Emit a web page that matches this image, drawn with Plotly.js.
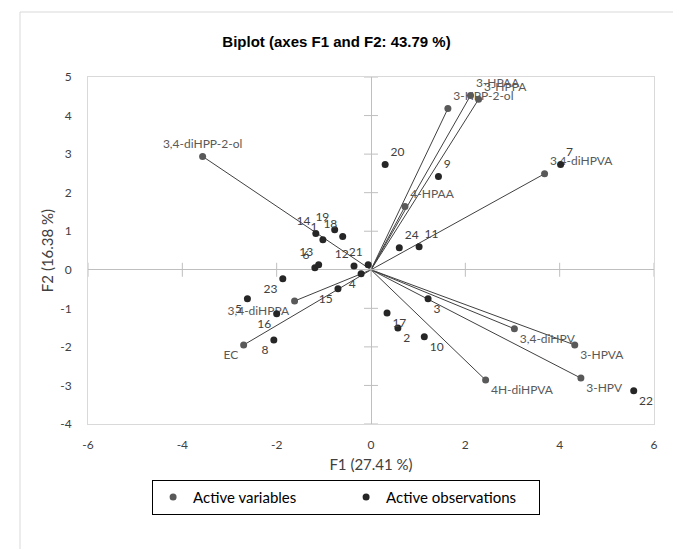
<!DOCTYPE html>
<html><head><meta charset="utf-8">
<script src="https://cdn.plot.ly/plotly-3.0.1.min.js"></script>
<style>html,body{margin:0;padding:0;background:#fff}#chart{width:673px;height:549px}</style>
</head><body><div id="chart"></div>
<script>
const variableNames = ['3,4-diHPP-2-ol','3-HPAA','3-HPPA','3-HPP-2-ol','4-HPAA','3,4-diHPVA','3,4-diHPV','3-HPVA','3-HPV','4H-diHPVA','3,4-diHPPA','EC'];
const variableF1 = [-3.57, 2.11, 2.28, 1.63, 0.72, 3.68, 3.04, 4.32, 4.45, 2.43, -1.62, -2.70];
const variableF2 = [2.94, 4.52, 4.42, 4.18, 1.64, 2.49, -1.53, -1.95, -2.81, -2.86, -0.81, -1.95];

const observationNames = ['1','2','3','4','5','6','7','8','9','10','11','12','13','14','15','16','17','18','19','20','21','22','23','24'];
const observationF1 = [-1.02, 0.57, 1.21, -0.21, -2.62, -1.19, 4.02, -2.06, 1.43, 1.13, 1.02, -0.36, -1.11, -1.17, -0.70, -2.00, 0.34, -0.60, -0.77, 0.30, -0.06, 5.57, -1.87, 0.60];
const observationF2 = [0.78, -1.51, -0.75, -0.10, -0.75, 0.05, 2.73, -1.82, 2.42, -1.74, 0.60, 0.10, 0.13, 0.94, -0.49, -1.14, -1.12, 0.86, 1.04, 2.73, 0.13, -3.14, -0.23, 0.57];

const xTickValues = [-6, -4, -2, 0, 2, 4, 6];
const xTickLabels = ['-6', '-4', '-2', '0', '2', '4', '6'];
const yTickValues = [-4, -3, -2, -1, 0, 1, 2, 3, 4, 5];
const yTickLabels = ['-4', '-3', '-2', '-1', '0', '1', '2', '3', '4', '5'];

const chartTitle = 'Biplot (axes F1 and F2: 43.79 %)';
const xTitle = 'F1 (27.41 %)';
const yTitle = 'F2 (16.38 %)';

function quadrantPosition(x, y) {
  const v = y >= 0 ? 'top' : 'bottom';
  const h = x >= 0 ? 'right' : 'left';
  return v + ' ' + h;
}
const varPositions = variableF1.map((x, i) => quadrantPosition(x, variableF2[i]));
varPositions[0] = 'top center';
const obsPositions = observationF1.map((x, i) => quadrantPosition(x, observationF2[i]));

const lineX = [], lineY = [];
variableF1.forEach((x, i) => { lineX.push(0, x, null); lineY.push(0, variableF2[i], null); });

const labelFont = 'Lato, "Open Sans", sans-serif';

const traces = [
  {
    type: 'scatter', mode: 'lines', x: lineX, y: lineY,
    line: {color: '#404040', width: 1}, hoverinfo: 'skip', showlegend: false
  },
  {
    type: 'scatter', mode: 'markers', x: yTickValues.map(() => 0), y: yTickValues,
    marker: {symbol: 'line-ew', size: 10, line: {color: '#bfbfbf', width: 1}},
    hoverinfo: 'skip', showlegend: false, cliponaxis: false
  },
  {
    type: 'scatter', mode: 'markers', x: xTickValues, y: xTickValues.map(() => 0),
    marker: {symbol: 'line-ns', size: 10, line: {color: '#bfbfbf', width: 1}},
    hoverinfo: 'skip', showlegend: false, cliponaxis: false
  },
  {
    type: 'scatter', mode: 'markers+text', name: 'Active variables',
    x: variableF1, y: variableF2, text: variableNames, textposition: varPositions,
    textfont: {family: labelFont, size: 12, color: '#595959'},
    marker: {color: '#595959', size: 7}, cliponaxis: false
  },
  {
    type: 'scatter', mode: 'markers+text', name: 'Active observations',
    x: observationF1, y: observationF2, text: observationNames, textposition: obsPositions,
    textfont: {family: labelFont, size: 12, color: '#404040'},
    marker: {color: '#262626', size: 7}, cliponaxis: false
  }
];

const layout = {
  width: 673, height: 549,
  margin: {l: 88, r: 19, t: 77, b: 125},
  paper_bgcolor: '#ffffff', plot_bgcolor: '#ffffff',
  title: {
    text: '<b>' + chartTitle + '</b>',
    font: {family: '"Liberation Sans", Arial, sans-serif', size: 15, color: '#000000'},
    x: 0.5, xanchor: 'center', y: 1 - 42 / 549, yanchor: 'middle'
  },
  xaxis: {
    range: [-6, 6], tickvals: xTickValues, ticktext: xTickLabels, ticks: '', showgrid: false,
    zeroline: true, zerolinecolor: '#bfbfbf', zerolinewidth: 1,
    showline: true, mirror: true, linecolor: '#d9d9d9', linewidth: 1,
    tickfont: {family: labelFont, size: 12, color: '#404040'},
    ticklabelstandoff: 10,
    title: {text: xTitle, font: {family: labelFont, size: 15, color: '#404040'}, standoff: 8}
  },
  yaxis: {
    range: [-4, 5], tickvals: yTickValues, ticktext: yTickLabels, ticks: '', showgrid: false,
    zeroline: true, zerolinecolor: '#bfbfbf', zerolinewidth: 1,
    showline: true, mirror: true, linecolor: '#d9d9d9', linewidth: 1,
    tickfont: {family: labelFont, size: 12, color: '#404040'},
    ticklabelstandoff: 13,
    title: {text: yTitle, font: {family: labelFont, size: 15, color: '#404040'}, standoff: 2}
  },
  legend: {
    orientation: 'h', x: 0.456, xanchor: 'center', y: -0.161, yanchor: 'top',
    bordercolor: '#000000', borderwidth: 1,
    font: {family: labelFont, size: 15, color: '#000000'},
    itemsizing: 'trace', entrywidth: 148, itemwidth: 30
  },
  shapes: [{
    type: 'rect', xref: 'paper', yref: 'paper',
    x0: (20 - 88) / 566, x1: 1.2, y0: -0.6, y1: 1 + (77 - 12) / 347,
    line: {color: '#d9d9d9', width: 1}, fillcolor: 'rgba(0,0,0,0)', layer: 'below'
  }],
  showlegend: true
};

Plotly.newPlot('chart', traces, layout, {displayModeBar: false, staticPlot: true});
</script>
</body></html>
